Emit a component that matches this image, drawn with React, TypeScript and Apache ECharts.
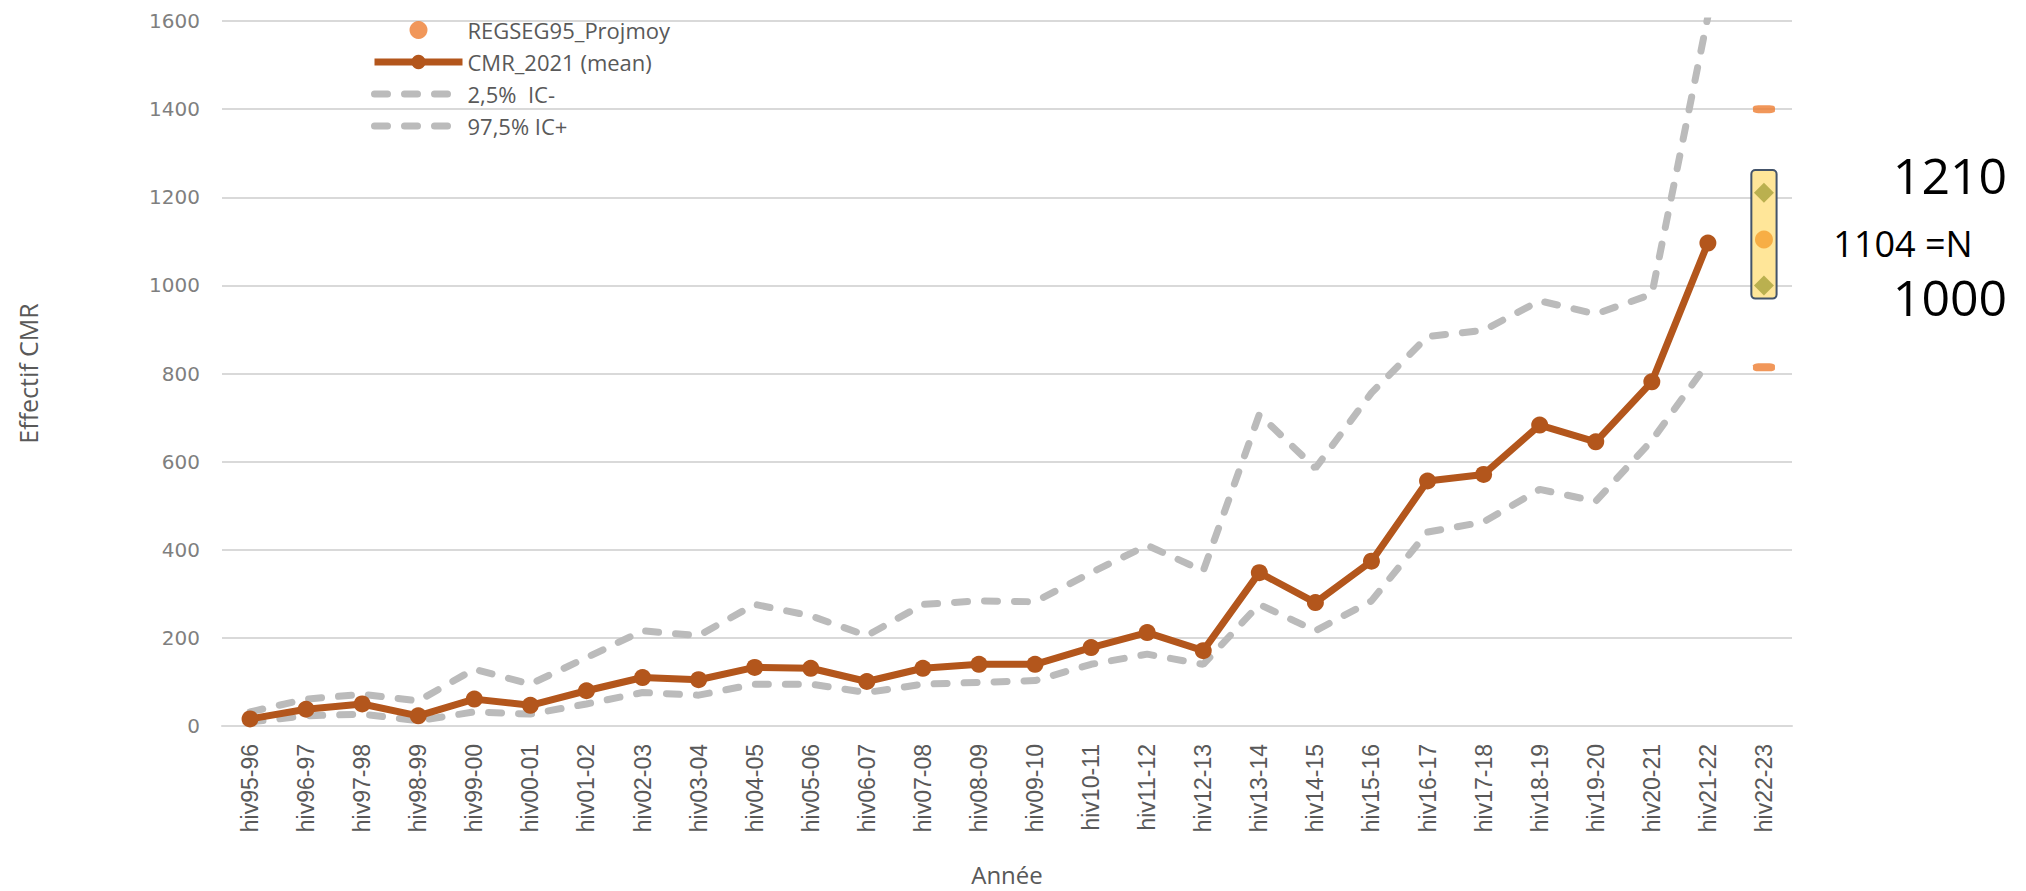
import React, { useEffect, useRef } from "react";
import * as echarts from "echarts";

const categories = [
  "hiv95-96", "hiv96-97", "hiv97-98", "hiv98-99", "hiv99-00", "hiv00-01", "hiv01-02",
  "hiv02-03", "hiv03-04", "hiv04-05", "hiv05-06", "hiv06-07", "hiv07-08", "hiv08-09",
  "hiv09-10", "hiv10-11", "hiv11-12", "hiv12-13", "hiv13-14", "hiv14-15", "hiv15-16",
  "hiv16-17", "hiv17-18", "hiv18-19", "hiv19-20", "hiv20-21", "hiv21-22", "hiv22-23",
];

const meanValues = [
  16, 38, 50, 23, 61, 47, 80, 110, 105, 133, 131, 101, 131, 140, 140, 178, 212, 171,
  348, 280, 374, 556, 571, 683, 645, 781, 1096, null,
];
const lowValues = [
  9, 23, 27, 12, 32, 27, 50, 76, 70, 95, 95, 76, 95, 99, 103, 140, 163, 140, 276, 216,
  284, 440, 463, 537, 510, 648, 824, null,
];
const highValues = [
  32, 61, 72, 57, 129, 95, 155, 216, 205, 276, 250, 205, 276, 284, 282, 348, 410, 352,
  707, 585, 756, 884, 898, 965, 935, 980, 1610, null,
];

const projCategory = "hiv22-23";
const projMean = 1104;
const projBounds = [1400, 814];
const rangeValues = [1210, 1000];
const boxRange = [970, 1262];

const yTicks = { min: 0, max: 1600, interval: 200 };

const names = {
  proj: "REGSEG95_Projmoy",
  mean: "CMR_2021 (mean)",
  low: "2,5%  IC-",
  high: "97,5% IC+",
};

export default function App() {
  const ref = useRef<HTMLDivElement>(null);

  useEffect(() => {
    if (!ref.current) return;
    const chart = echarts.init(ref.current, null, { renderer: "svg" });
    const projIdx = categories.indexOf(projCategory);
    const gray = "#BBBBBB";
    const brown = "#B3561C";
    const dashStyle = { color: gray, width: 7, type: [13, 17], cap: "round" };

    const option: any = {
      animation: false,
      backgroundColor: "#ffffff",
      grid: { left: 222, right: 234, top: 21, bottom: 164, containLabel: false },
      legend: {
        orient: "vertical",
        left: 366,
        top: 12,
        itemWidth: 88,
        itemHeight: 18,
        itemGap: 6,
        textStyle: {
          color: "#595959",
          fontSize: 22,
          lineHeight: 26,
          fontFamily: "Open Sans",
        },
        data: [
          { name: names.proj, icon: "circle" },
          { name: names.mean, lineStyle: { width: 7, color: brown } },
          { name: names.low, itemStyle: { opacity: 0 }, lineStyle: dashStyle },
          { name: names.high, itemStyle: { opacity: 0 }, lineStyle: dashStyle },
        ],
      },
      xAxis: {
        type: "category",
        data: categories,
        boundaryGap: true,
        name: "Année",
        nameLocation: "middle",
        nameGap: 136,
        nameTextStyle: { color: "#595959", fontSize: 24, fontFamily: "Open Sans" },
        axisTick: { show: false },
        axisLine: { lineStyle: { color: "#D9D9D9", width: 2 } },
        axisLabel: {
          rotate: 90,
          interval: 0,
          margin: 18,
          color: "#595959",
          fontSize: 23,
          fontFamily: "Liberation Sans",
        },
      },
      yAxis: {
        type: "value",
        min: yTicks.min,
        max: yTicks.max,
        interval: yTicks.interval,
        name: "Effectif CMR",
        nameLocation: "middle",
        nameGap: 182,
        nameTextStyle: { color: "#595959", fontSize: 25, fontFamily: "Open Sans" },
        axisLine: { show: false },
        axisTick: { show: false },
        splitLine: { lineStyle: { color: "#D9D9D9", width: 2 } },
        axisLabel: {
          margin: 22,
          color: "#7F7F7F",
          fontSize: 20,
          fontFamily: "DejaVu Sans",
          formatter: (v: number) => String(v),
        },
      },
      series: [
        {
          name: "IC box",
          type: "custom",
          z: 1,
          data: [[projIdx, boxRange[0], boxRange[1]]],
          encode: { x: 0, y: [1, 2] },
          renderItem: (params: any, api: any) => {
            const xi = api.value(0);
            const top = api.coord([xi, api.value(2)]);
            const bot = api.coord([xi, api.value(1)]);
            const w = api.size([1, 0])[0] * 0.45;
            return {
              type: "rect",
              shape: { x: top[0] - w / 2, y: top[1], width: w, height: bot[1] - top[1], r: 4 },
              style: { fill: "#FFE699", stroke: "#44546A", lineWidth: 2 },
            };
          },
        },
        {
          name: names.low,
          type: "line",
          z: 2,
          data: lowValues,
          symbol: "none",
          lineStyle: dashStyle,
          itemStyle: { color: gray },
        },
        {
          name: names.high,
          type: "line",
          z: 2,
          data: highValues,
          symbol: "none",
          lineStyle: dashStyle,
          itemStyle: { color: gray },
        },
        {
          name: names.mean,
          type: "line",
          z: 4,
          data: meanValues,
          symbol: "circle",
          symbolSize: 17,
          lineStyle: { color: brown, width: 7 },
          itemStyle: { color: brown },
        },
        {
          name: "range",
          type: "scatter",
          z: 5,
          symbol: "diamond",
          symbolSize: [20, 20],
          itemStyle: { color: "#A9A23C" },
          data: rangeValues.map((v) => [projCategory, v]),
        },
        {
          name: names.proj,
          type: "scatter",
          z: 6,
          symbol: "circle",
          symbolSize: 18,
          itemStyle: { color: "#ED7D31" },
          data: [
            { value: [projCategory, projMean], itemStyle: { color: "#F5A030" } },
            ...projBounds.map((v) => ({
              value: [projCategory, v],
              symbol: "roundRect",
              symbolSize: [22, 8],
            })),
          ],
        },
      ],
      graphic: [
        {
          type: "text",
          x: 1950,
          y: 175,
          style: {
            text: String(rangeValues[0]),
            fontSize: 50,
            fontFamily: "Open Sans",
            fill: "#000000",
            align: "center",
            verticalAlign: "middle",
          },
        },
        {
          type: "text",
          x: 1903,
          y: 243,
          style: {
            text: `${projMean} =N`,
            fontSize: 36,
            fontFamily: "Open Sans",
            fill: "#000000",
            align: "center",
            verticalAlign: "middle",
          },
        },
        {
          type: "text",
          x: 1950,
          y: 297,
          style: {
            text: String(rangeValues[1]),
            fontSize: 50,
            fontFamily: "Open Sans",
            fill: "#000000",
            align: "center",
            verticalAlign: "middle",
          },
        },
      ],
    };

    chart.setOption(option);
    return () => chart.dispose();
  }, []);

  return (
    <div
      ref={ref}
      style={{ position: "fixed", left: 0, top: 0, width: 2026, height: 891, background: "#fff" }}
    />
  );
}
